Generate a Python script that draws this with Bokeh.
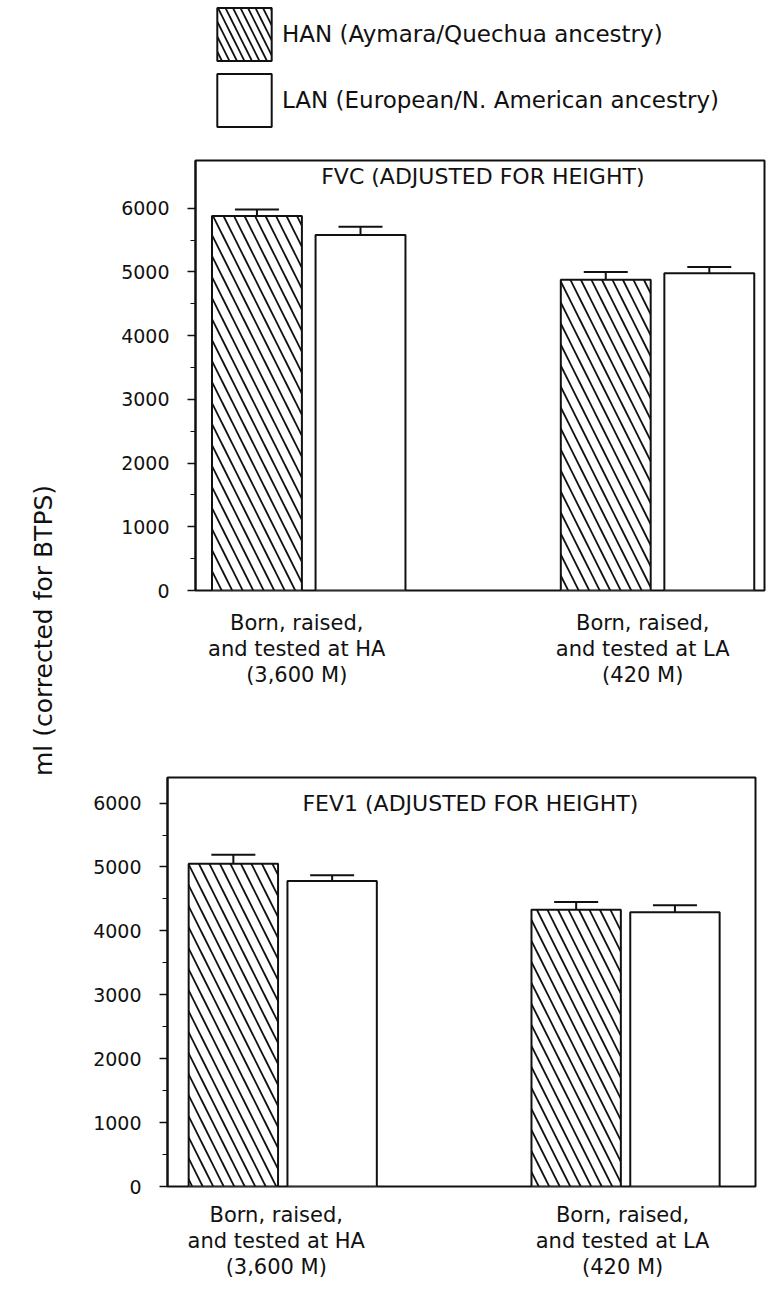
import math
import numpy as np
from bokeh.plotting import figure
from bokeh.models import (ColumnDataSource, Range1d, FixedTicker, Whisker, TeeHead,
                          Label, Legend, LegendItem)
from bokeh.layouts import row, column
from bokeh.embed import file_html
from bokeh.resources import INLINE

# ---------------- data ----------------
group_labels = ["Born, raised,\nand tested at HA\n(3,600 M)",
                "Born, raised,\nand tested at LA\n(420 M)"]
series_names = ["HAN (Aymara/Quechua ancestry)",
                "LAN (European/N. American ancestry)"]
panel_titles = ["FVC (ADJUSTED FOR HEIGHT)", "FEV1 (ADJUSTED FOR HEIGHT)"]
y_axis_label = "ml (corrected for BTPS)"
y_ticks = [0, 1000, 2000, 3000, 4000, 5000, 6000]

fvc_han = [5880, 4880]
fvc_han_err = [100, 120]
fvc_lan = [5580, 4980]
fvc_lan_err = [130, 100]

fev1_han = [5050, 4330]
fev1_han_err = [140, 120]
fev1_lan = [4780, 4290]
fev1_lan_err = [90, 110]

INK = "#111111"
FONT = "DejaVu Sans"


def bar_panel(han, han_err, lan, lan_err, title, *, width, height, mbl, mbr, mbt, mbb,
              y_end, centers, offset, bar_w, label_x, label_standoff, title_x, title_y):
    p = figure(width=width, height=height, x_range=Range1d(0, 100), y_range=Range1d(0, y_end),
               output_backend="svg", toolbar_location=None,
               min_border_left=mbl, min_border_right=mbr, min_border_top=mbt, min_border_bottom=mbb)
    p.grid.visible = False
    p.outline_line_color = INK
    p.outline_line_width = 2
    p.background_fill_color = "white"

    src_han = ColumnDataSource(dict(x=[c - offset for c in centers], top=han,
                                    upper=[t + e for t, e in zip(han, han_err)]))
    src_lan = ColumnDataSource(dict(x=[c + offset for c in centers], top=lan,
                                    upper=[t + e for t, e in zip(lan, lan_err)]))
    p.vbar(x="x", top="top", bottom=0, width=bar_w, source=src_han,
           fill_color="white", line_color=INK, line_width=2,
           hatch_pattern="\\", hatch_color=INK, hatch_weight=1.8, hatch_scale=21)
    p.vbar(x="x", top="top", bottom=0, width=bar_w, source=src_lan,
           fill_color="white", line_color=INK, line_width=2)
    for s in (src_han, src_lan):
        p.add_layout(Whisker(source=s, base="x", lower="top", upper="upper",
                             lower_head=None,
                             upper_head=TeeHead(size=44, line_color=INK, line_width=2),
                             line_color=INK, line_width=2))

    yax = p.yaxis[0]
    yax.ticker = FixedTicker(ticks=y_ticks,
                             minor_ticks=[(a + b) / 2 for a, b in zip(y_ticks[:-1], y_ticks[1:])])
    yax.axis_line_color = INK
    yax.axis_line_width = 2
    yax.major_tick_line_color = INK
    yax.major_tick_line_width = 1.5
    yax.major_tick_in = 0
    yax.major_tick_out = 8
    yax.minor_tick_line_color = INK
    yax.minor_tick_line_width = 1.2
    yax.minor_tick_in = 0
    yax.minor_tick_out = 5
    yax.major_label_standoff = 18
    yax.major_label_text_font = FONT
    yax.major_label_text_font_size = "19px"
    yax.major_label_text_color = INK

    xax = p.xaxis[0]
    xax.ticker = FixedTicker(ticks=label_x, minor_ticks=[])
    xax.major_label_overrides = {lx: lab for lx, lab in zip(label_x, group_labels)}
    xax.axis_line_color = None
    xax.major_tick_line_color = None
    xax.minor_tick_line_color = None
    xax.major_label_standoff = label_standoff
    xax.major_label_text_font = FONT
    xax.major_label_text_font_size = "21px"
    xax.major_label_text_line_height = 1.1
    xax.major_label_text_color = INK

    p.add_layout(Label(x=title_x, y=title_y, text=title, text_align="center",
                       text_baseline="middle", text_font=FONT, text_font_size="22px",
                       text_color=INK))
    return p


top = bar_panel(fvc_han, fvc_han_err, fvc_lan, fvc_lan_err, panel_titles[0],
                width=676, height=550, mbl=105, mbr=2, mbt=10, mbb=110, y_end=6750,
                centers=[19.9, 81.2], offset=9.1, bar_w=15.8, label_x=[17.8, 78.6],
                label_standoff=14, title_x=50.5, title_y=6500)

bottom = bar_panel(fev1_han, fev1_han_err, fev1_lan, fev1_lan_err, panel_titles[1],
                   width=676, height=590, mbl=72, mbr=11, mbt=77, mbb=104, y_end=6400,
                   centers=[19.6, 77.9], offset=8.4, bar_w=15.2, label_x=[18.5, 77.4],
                   label_standoff=10, title_x=51.5, title_y=6000)

# ---------------- legend strip ----------------
lf = figure(width=676, height=150, x_range=Range1d(0, 1), y_range=Range1d(0, 1),
            x_axis_type=None, y_axis_type=None, output_backend="svg", toolbar_location=None,
            min_border=0)
lf.grid.visible = False
lf.outline_line_color = None
# legend-only renderers: a single undefined (NaN) bar, so nothing is drawn in the strip
leg_src = ColumnDataSource(dict(x=np.array([np.nan]), top=np.array([np.nan])))
r_han = lf.vbar(x="x", top="top", bottom=0, width=0.01, source=leg_src,
                fill_color="white", line_color=INK, line_width=2,
                hatch_pattern="\\", hatch_color=INK, hatch_weight=1.8, hatch_scale=15)
r_lan = lf.vbar(x="x", top="top", bottom=0, width=0.01, source=leg_src,
                fill_color="white", line_color=INK, line_width=2)
legend = Legend(items=[LegendItem(label=series_names[0], renderers=[r_han]),
                       LegendItem(label=series_names[1], renderers=[r_lan])],
                location=(120, 17), glyph_width=68, glyph_height=66, label_height=66,
                label_standoff=4, spacing=0, padding=0, margin=0,
                border_line_color=None, background_fill_alpha=0,
                label_text_font=FONT, label_text_font_size="23px", label_text_color=INK)
lf.add_layout(legend)

# ---------------- side strip with the shared y-axis title ----------------
sf = figure(width=90, height=1290, x_range=Range1d(0, 90), y_range=Range1d(1290, 0),
            x_axis_type=None, y_axis_type=None, output_backend="svg", toolbar_location=None,
            min_border=0)
sf.grid.visible = False
sf.outline_line_color = None
sf.add_layout(Label(x=43, y=630, text=y_axis_label, angle=math.pi / 2, text_align="center",
                    text_baseline="middle", text_font=FONT, text_font_size="25px",
                    text_color=INK))

layout = row(sf, column(row(lf), row(top), row(bottom)))
open("out.html", "w").write(file_html(layout, INLINE))
